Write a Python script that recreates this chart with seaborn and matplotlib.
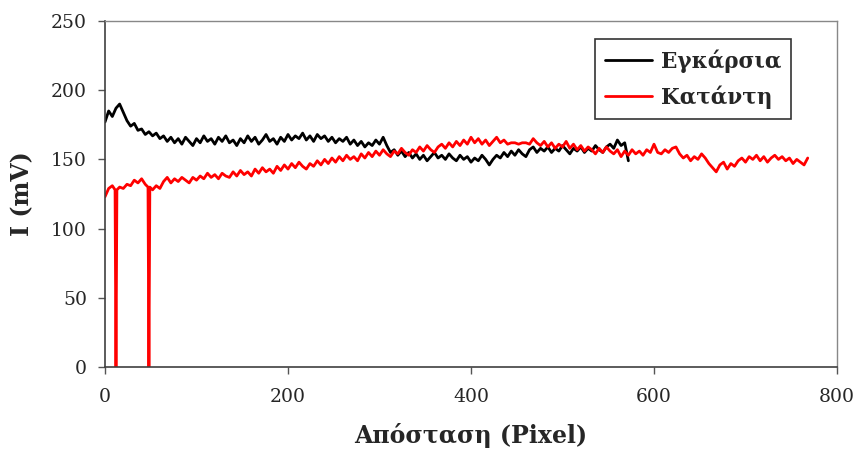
import numpy as np
import pandas as pd
import matplotlib
matplotlib.use("Agg")
import matplotlib.pyplot as plt
import seaborn as sns

# ---- data ----
series_names = ["Εγκάρσια", "Κατάντη"]
x_step = 4

black_y = [177, 185, 181, 187, 190, 184, 178, 174, 176, 171, 172, 168, 170, 167, 169, 165,
           167, 163, 166, 162, 165, 161, 166, 163, 160, 165, 162, 167, 163, 165, 161, 166,
           163, 167, 162, 164, 160, 165, 162, 167, 163, 166, 161, 164, 168, 163, 165, 161,
           166, 163, 168, 164, 167, 165, 169, 164, 167, 163, 168, 165, 167, 163, 166, 162,
           165, 163, 166, 161, 164, 160, 163, 159, 162, 160, 164, 161, 166, 160, 155, 157,
           153, 156, 152, 155, 151, 154, 150, 153, 149, 152, 155, 151, 153, 150, 154, 151,
           149, 153, 150, 152, 148, 151, 149, 153, 150, 146, 150, 153, 151, 155, 152, 156,
           153, 157, 154, 152, 157, 159, 155, 158, 156, 159, 155, 158, 156, 160, 157, 154,
           158, 156, 159, 155, 158, 156, 160, 157, 155, 159, 161, 158, 164, 160, 162, 149]

red_y = [123, 129, 131, 128, 130, 129, 132, 131, 135, 133, 136, 132, 130, 128, 131, 129,
         134, 137, 133, 136, 134, 137, 135, 133, 137, 135, 138, 136, 140, 137, 139, 136,
         140, 138, 137, 141, 138, 142, 139, 141, 138, 143, 140, 144, 141, 143, 140, 145,
         142, 146, 143, 147, 144, 148, 145, 143, 147, 145, 149, 146, 150, 147, 151, 148,
         152, 149, 153, 150, 152, 149, 154, 151, 155, 152, 156, 153, 157, 154, 152, 156,
         154, 158, 155, 153, 157, 155, 159, 156, 160, 157, 155, 159, 161, 158, 162, 159,
         163, 160, 164, 161, 166, 162, 165, 161, 164, 160, 163, 166, 162, 164, 161, 162,
         162, 161, 162, 162, 161, 165, 162, 160, 163, 159, 162, 158, 161, 159, 163, 158,
         161, 157, 160, 156, 159, 157, 154, 158, 155, 159, 156, 154, 157, 152, 156, 153,
         157, 154, 156, 153, 157, 155, 161, 155, 154, 157, 155, 158, 159, 154, 151, 153,
         149, 152, 150, 154, 151, 147, 144, 141, 146, 148, 143, 147, 145, 149, 151, 148,
         152, 150, 153, 149, 152, 148, 151, 153, 150, 152, 149, 151, 147, 150, 148, 146,
         151]

# narrow drop-outs of the red series
dip_x = [12, 48]
dip_y = [0, 0]

x_ticks = [0, 200, 400, 600, 800]
y_ticks = [0, 50, 100, 150, 200, 250]

# ---- build long table ----
bx = np.arange(len(black_y)) * x_step
rx = np.arange(len(red_y)) * x_step
red_pts = dict(zip(rx.tolist(), red_y))
red_list = []
for xv, yv in red_pts.items():
    if xv in dip_x:
        dy = dip_y[dip_x.index(xv)]
        red_list += [(xv - 1, yv), (xv, dy), (xv + 1, yv)]
    else:
        red_list.append((xv, yv))
df = pd.concat([
    pd.DataFrame({"x": bx, "y": black_y, "s": series_names[0]}),
    pd.DataFrame({"x": [p[0] for p in red_list], "y": [p[1] for p in red_list],
                  "s": series_names[1]}),
], ignore_index=True)

sns.set_style("white")
plt.rcParams["font.family"] = ["DejaVu Serif"]

fig = plt.figure(figsize=(8.58, 4.53), dpi=100)
ax = fig.add_axes([105 / 858, 1 - 367 / 453, 732 / 858, 346 / 453])

sns.lineplot(data=df, x="x", y="y", hue="s", palette=["#000000", "#ff0000"],
             sort=False, estimator=None, linewidth=2.0, ax=ax)

ax.set_xlim(0, 800)
ax.set_ylim(0, 250)
ax.set_xticks(x_ticks)
ax.set_yticks(y_ticks)
ax.tick_params(axis="both", direction="out", length=5, width=1, color="#555555",
               labelsize=13.5, left=True, bottom=True)
ax.tick_params(axis="x", pad=10)
ax.tick_params(axis="y", pad=8)
for side in ["left", "bottom"]:
    ax.spines[side].set_color("#404040")
    ax.spines[side].set_linewidth(1.2)
for side in ["top", "right"]:
    ax.spines[side].set_color("#888888")
    ax.spines[side].set_linewidth(1.0)

ax.set_xlabel("Απόσταση (Pixel)", fontsize=17, fontweight="bold", labelpad=12)
ax.set_ylabel("I (mV)", fontsize=17, fontweight="bold", labelpad=12)

leg = ax.legend(loc="upper right", bbox_to_anchor=(0.937, 0.947), frameon=True,
                fancybox=False, framealpha=1, edgecolor="#333333",
                prop={"weight": "bold", "size": 15.5}, handlelength=2.2,
                handletextpad=0.4, borderpad=0.45, labelspacing=0.6,
                borderaxespad=0)
leg.get_frame().set_linewidth(1.2)

fig.savefig("out.png", dpi=100)
